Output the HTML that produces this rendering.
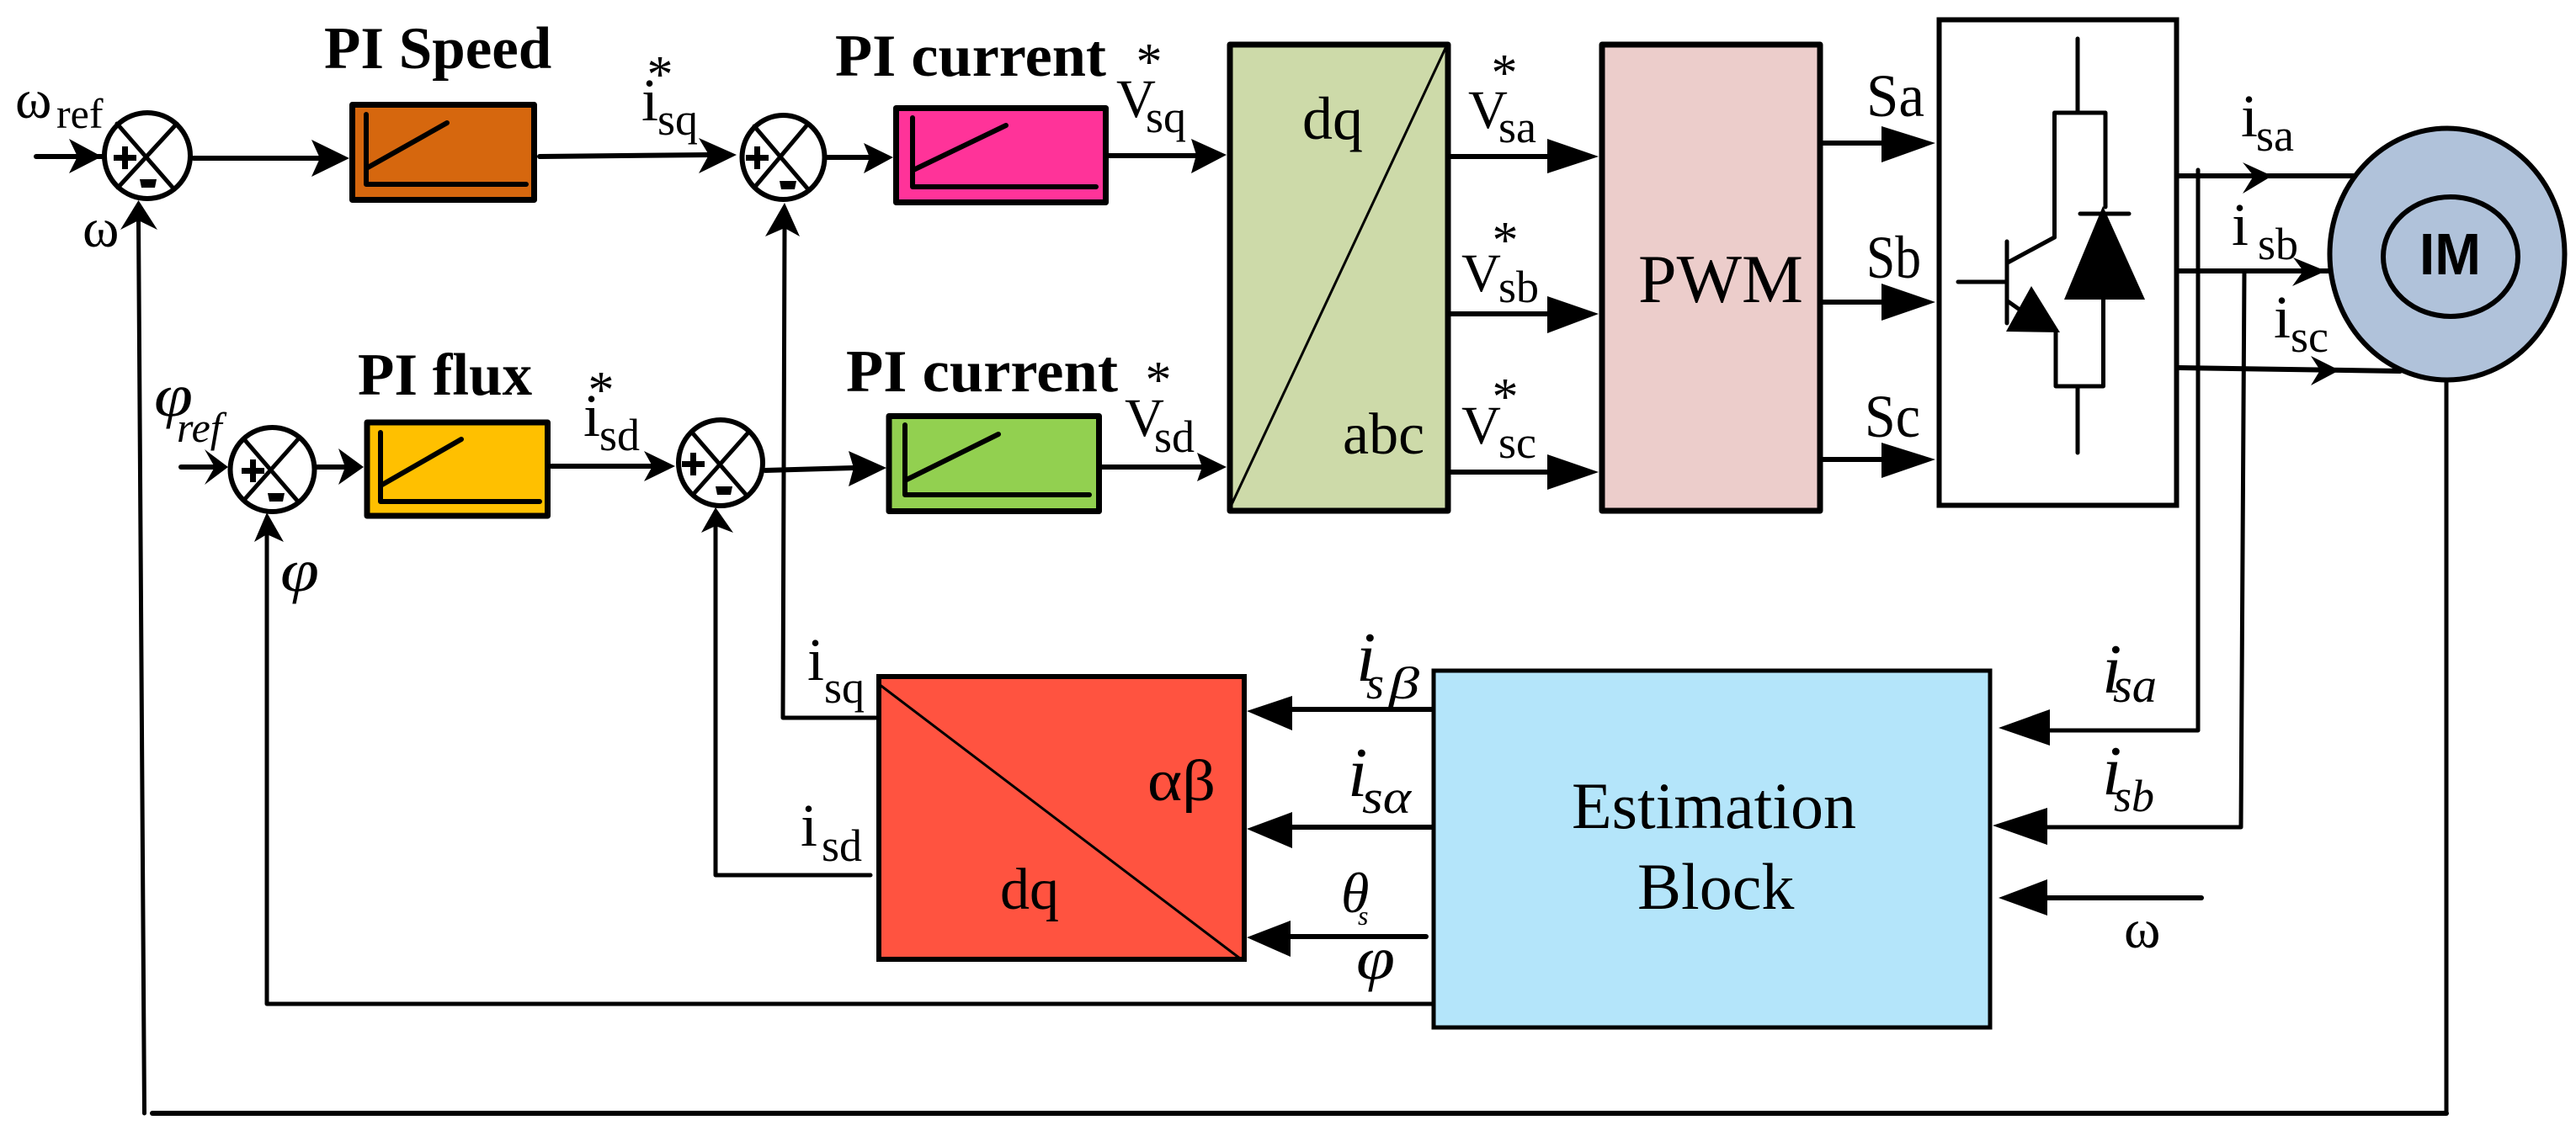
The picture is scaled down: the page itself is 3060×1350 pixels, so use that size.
<!DOCTYPE html>
<html><head><meta charset="utf-8"><style>
html,body{margin:0;padding:0;background:#fff;width:3060px;height:1350px;overflow:hidden}
svg{display:block}
text{font-family:"Liberation Serif",serif;fill:#000}
.b{font-weight:bold;font-size:71px}
.m{font-size:72px}
.s{font-size:54px}
.a{font-size:62px;text-anchor:middle}
.i{font-style:italic}
.l{fill:none;stroke:#000;stroke-width:6;stroke-linecap:round;stroke-linejoin:round}
.n{stroke-width:5}
.r{stroke:#000;stroke-width:7;stroke-linejoin:round}
</style></head><body>
<svg width="3060" height="1350" viewBox="0 0 3060 1350" xmlns="http://www.w3.org/2000/svg">
<rect width="3060" height="1350" fill="#fff"/>

<!-- Connector lines -->
<g class="l">
<path d="M43 186H121"/>
<path d="M230 188H380"/>
<path d="M641 186L842 184"/>
<path d="M982 187H1033"/>
<path d="M215 555H255"/>
<path d="M376 555H410"/>
<path d="M655 554H775"/>
<path d="M909 559L1014 556"/>
<path d="M1317 185H1425"/>
<path d="M1309 555H1428"/>
<path d="M1717 186H1840"/>
<path d="M1717 373H1840"/>
<path d="M1717 561H1840"/>
<path d="M2165 170H2240"/>
<path d="M2165 359H2240"/>
<path d="M2165 546H2240"/>
<path d="M2588 209H2800"/>
<path d="M2588 322H2768"/>
<path d="M2588 437L2851 441"/>
<path class="n" d="M2611 202V868H2400"/>
<path class="n" d="M2666 323L2662 983H2400"/>
<path d="M2615 1067H2400"/>
<path class="n" d="M164.5 262L171.5 1323"/>
<path d="M181 1323H2906"/>
<path class="n" d="M2906 454V1323"/>
<path class="n" d="M932 270L930 853H1042"/>
<path class="n" d="M850 625V1040H1034"/>
<path class="n" d="M317 635V1193H1701"/>
<path d="M1701 843H1520"/>
<path d="M1701 983H1520"/>
<path d="M1694 1113H1520"/>
</g>

<!-- Arrowheads -->
<g fill="#000">
<polygon points="121,186 82,165 92,186 82,206"/>
<polygon points="415,188 370,166 380,188 370,210"/>
<polygon points="875,184 830,164 842,184 830,206"/>
<polygon points="1061,187 1026,170 1033,187 1026,206"/>
<polygon points="271,555 243,534 255,555 243,576"/>
<polygon points="432,555 402,533 410,555 402,576"/>
<polygon points="802,554 765,536 775,554 765,572"/>
<polygon points="1053,556 1008,536 1014,556 1008,578"/>
<polygon points="1457,184 1415,165 1421,184 1415,206"/>
<polygon points="1457,555 1422,538 1428,555 1422,572"/>
<polygon points="1899,186 1838,165 1838,206"/>
<polygon points="1899,373 1838,352 1838,396"/>
<polygon points="1899,561 1838,540 1838,582"/>
<polygon points="2299,170 2235,150 2235,193"/>
<polygon points="2299,359 2235,337 2235,381"/>
<polygon points="2299,546 2235,526 2235,568"/>
<polygon points="2699,209 2664,193 2677,209 2664,230"/>
<polygon points="2763,322 2724,306 2736,322 2723,340"/>
<polygon points="2779,440 2745,423 2756,440 2745,458"/>
<polygon points="2374,865 2435,843 2435,886"/>
<polygon points="2367,981 2432,960 2432,1004"/>
<polygon points="2374,1067 2432,1045 2432,1088"/>
<polygon points="164.5,238 143,273 164.5,262 187,273"/>
<polygon points="932,241 909,281 932,271 950,281"/>
<polygon points="317,609 302,644 317,635 337,644"/>
<polygon points="850,603 833,633 850,625 871,633"/>
<polygon points="1481,845 1535,827 1535,868"/>
<polygon points="1481,985 1535,965 1535,1008"/>
<polygon points="1481,1114 1533,1094 1533,1137"/>
</g>

<!-- Summing junctions -->
<g fill="#fff" stroke="#000" stroke-width="6">
<circle cx="175" cy="185" r="51"/>
<ellipse cx="930.5" cy="187" rx="49" ry="50"/>
<ellipse cx="323.5" cy="558" rx="50" ry="50"/>
<ellipse cx="856" cy="550" rx="50" ry="51"/>
</g>
<g class="l n">
<path d="M139 147L207 225M210 147L140 223"/>
<path d="M896 150L960 225M960 147L896 223"/>
<path d="M290 522L354 596M354 522L290 594"/>
<path d="M823 515L888 590M888 515L823 588"/>
</g>
<g fill="#000">
<path d="M145 174h7v10h10v7h-10v10h-7v-10h-10v-7h10z"/>
<polygon points="166,213 186,213 184,223 168,223"/>
<path d="M896 174h7v10h10v7h-10v10h-7v-10h-10v-7h10z"/>
<polygon points="926,215 946,215 944,225 928,225"/>
<path d="M297 546h7v10h10v7h-10v10h-7v-10h-10v-7h10z"/>
<polygon points="318,586 338,586 336,596 320,596"/>
<path d="M820 538h7v10h10v7h-10v10h-7v-10h-10v-7h10z"/>
<polygon points="850,578 870,578 868,588 852,588"/>
</g>

<!-- PI boxes -->
<rect class="r" x="418.500" y="124.500" width="216" height="113" fill="#D6670E"/>
<rect class="r" x="436" y="502" width="214.500" height="111" fill="#FFC000"/>
<rect class="r" x="1064.500" y="128.500" width="249" height="112" fill="#FF3399"/>
<rect class="r" x="1056" y="494.500" width="249.500" height="113" fill="#92D050"/>
<g class="l">
<path d="M435 136V219H625M437 199L531 146"/>
<path d="M452 514V596H641M454 576L548 522"/>
<path d="M1084 140V222H1302M1085 202L1195 149"/>
<path d="M1075 505V588H1294M1077 570L1186 516"/>
</g>

<!-- Transform & PWM blocks -->
<rect class="r" x="1461" y="53" width="259" height="554" fill="#CDDAA9"/>
<path d="M1719 53L1460 606" stroke="#000" stroke-width="3" fill="none"/>
<rect class="r" x="1903" y="53" width="259" height="554" fill="#ECCDCB"/>

<!-- Inverter -->
<rect x="2303.500" y="23.500" width="282" height="577" fill="#fff" stroke="#000" stroke-width="6"/>
<g class="l n">
<path d="M2468 46V134M2468 459V538"/>
<path d="M2440.500 282V134H2501V246"/>
<path d="M2498.500 355V459H2442V392"/>
<path d="M2440.500 282L2385 312M2384 287V384M2326 335H2384M2385 358L2402 370"/>
<path d="M2471 254H2529"/>
</g>
<polygon fill="#000" points="2498,245 2452,356 2548,356"/>
<polygon fill="#000" points="2413,340 2383,394 2447,395"/>

<!-- Motor -->
<ellipse cx="2907" cy="302" rx="139.500" ry="149.500" fill="#B0C2DA" stroke="#000" stroke-width="6"/>
<ellipse cx="2911" cy="305" rx="80" ry="71" fill="#B0C2DA" stroke="#000" stroke-width="6"/>

<!-- dq/alpha-beta block -->
<rect x="1044" y="804" width="434" height="336" fill="#FF5340" stroke="#000" stroke-width="6"/>
<path d="M1044 813L1473 1139" stroke="#000" stroke-width="3" fill="none"/>

<!-- Estimation block -->
<rect x="1703" y="797" width="661" height="424" fill="#B4E5FA" stroke="#000" stroke-width="5"/>

<!-- Bold titles -->
<text class="b" x="385" y="81">PI Speed</text>
<text class="b" x="425" y="469">PI flux</text>
<text class="b" x="992" y="90" textLength="322" lengthAdjust="spacingAndGlyphs">PI current</text>
<text class="b" x="1005" y="465" textLength="323" lengthAdjust="spacingAndGlyphs">PI current</text>
<text x="2874" y="326" textLength="73" lengthAdjust="spacingAndGlyphs" style="font-family:'Liberation Sans',sans-serif;font-weight:bold;font-size:70px">IM</text>

<!-- Block text -->
<text x="1547" y="165" style="font-size:72px">dq</text>
<text x="1595" y="539" style="font-size:70px">abc</text>
<text x="1946" y="359" style="font-size:82px">PWM</text>
<text x="1188" y="1080" style="font-size:70px">dq</text>
<text x="1363" y="951" style="font-size:70px" textLength="81" lengthAdjust="spacingAndGlyphs">αβ</text>
<text x="1867" y="984" style="font-size:78px">Estimation</text>
<text x="1945" y="1080" style="font-size:78px">Block</text>

<!-- Omega/phi inputs -->
<text x="18" y="140" style="font-size:66px">ω</text><text x="67" y="152" style="font-size:50px">ref</text>
<text x="98" y="293" style="font-size:66px">ω</text>
<text class="i" x="183" y="494" style="font-size:72px" textLength="46" lengthAdjust="spacingAndGlyphs">φ</text><text class="i" x="210" y="525" style="font-size:50px">ref</text>
<text class="i" x="333" y="702" style="font-size:72px" textLength="46" lengthAdjust="spacingAndGlyphs">φ</text>
<text x="2523" y="1126" style="font-size:66px">ω</text>

<!-- i* labels -->
<text class="m" x="762" y="143">i</text><text class="s" x="781" y="160">sq</text><text class="a" x="784" y="109">*</text>
<text class="m" x="693" y="518">i</text><text class="s" x="712" y="535">sd</text><text class="a" x="714" y="484">*</text>

<!-- V labels -->
<text x="1326" y="139" style="font-size:65px">V</text><text class="s" x="1361" y="157">sq</text><text class="a" x="1365" y="94">*</text>
<text x="1336" y="518" style="font-size:65px">V</text><text class="s" x="1371" y="537">sd</text><text class="a" x="1376" y="472">*</text>
<text x="1744" y="152" style="font-size:65px">V</text><text class="s" x="1780" y="169">sa</text><text class="a" x="1787" y="107">*</text>
<text x="1736" y="346" style="font-size:65px">V</text><text class="s" x="1780" y="359">sb</text><text class="a" x="1788" y="306">*</text>
<text x="1736" y="527" style="font-size:65px">V</text><text class="s" x="1780" y="544">sc</text><text class="a" x="1788" y="492">*</text>

<!-- S labels -->
<text x="2217" y="138" style="font-size:72px" textLength="69" lengthAdjust="spacingAndGlyphs">Sa</text>
<text x="2217" y="330" style="font-size:72px" textLength="65" lengthAdjust="spacingAndGlyphs">Sb</text>
<text x="2215" y="519" style="font-size:72px" textLength="66" lengthAdjust="spacingAndGlyphs">Sc</text>

<!-- Motor currents -->
<text class="m" x="2662" y="162">i</text><text class="s" x="2680" y="179">sa</text>
<text class="m" x="2651" y="291">i</text><text class="s" x="2682" y="308">sb</text>
<text class="m" x="2701" y="401">i</text><text class="s" x="2721" y="418">sc</text>

<!-- Lower labels -->
<text class="m" x="959" y="808">i</text><text class="s" x="979" y="835">sq</text>
<text class="m" x="951" y="1005">i</text><text class="s" x="976" y="1023">sd</text>

<!-- Italic labels -->
<text class="i" x="1611" y="809" style="font-size:84px">i</text><text class="i" x="1623" y="830" style="font-size:54px">s</text><text class="i" x="1650" y="830" style="font-size:54px" textLength="36" lengthAdjust="spacingAndGlyphs">β</text>
<text class="i" x="1601" y="946" style="font-size:84px">i</text><text class="i" x="1618" y="966" style="font-size:56px" textLength="58" lengthAdjust="spacingAndGlyphs">sα</text>
<text class="i" x="1593" y="1084" style="font-size:68px">θ</text><text class="i" x="1613" y="1099" style="font-size:32px">s</text>
<text class="i" x="1611" y="1163" style="font-size:72px" textLength="46" lengthAdjust="spacingAndGlyphs">φ</text>
<text class="i" x="2497" y="823" style="font-size:84px">i</text><text class="i" x="2510" y="834" style="font-size:58px" textLength="52" lengthAdjust="spacingAndGlyphs">sa</text>
<text class="i" x="2497" y="944" style="font-size:84px">i</text><text class="i" x="2511" y="964" style="font-size:54px" textLength="48" lengthAdjust="spacingAndGlyphs">sb</text>
</svg>
</body></html>
